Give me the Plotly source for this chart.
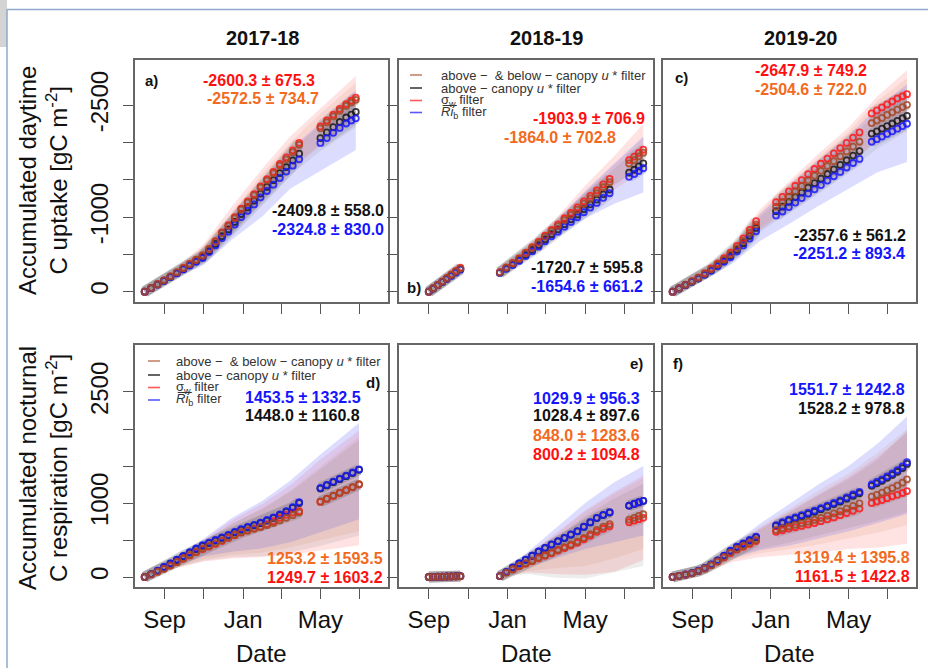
import plotly.graph_objects as go

W, H = 928, 668

# ---------------------------------------------------------------
# Sampling dates (one list per season / variable)
# ---------------------------------------------------------------
dates_a = ["2017-08-01", "2017-08-11", "2017-08-21", "2017-08-31", "2017-09-10", "2017-09-20",
           "2017-09-30", "2017-10-10", "2017-10-20", "2017-10-30", "2017-11-09", "2017-11-19",
           "2017-11-29", "2017-12-09", "2017-12-19", "2017-12-29", "2018-01-08", "2018-01-18",
           "2018-01-28", "2018-02-07", "2018-02-17", "2018-02-27", "2018-03-09", "2018-03-19",
           "2018-03-29", "2018-05-01", "2018-05-11", "2018-05-21", "2018-05-31", "2018-06-10",
           "2018-06-18", "2018-06-25"]
dates_d = ["2017-08-01", "2017-08-11", "2017-08-21", "2017-08-31", "2017-09-10", "2017-09-20",
           "2017-09-30", "2017-10-10", "2017-10-20", "2017-10-30", "2017-11-09", "2017-11-19",
           "2017-11-29", "2017-12-09", "2017-12-19", "2017-12-29", "2018-01-08", "2018-01-18",
           "2018-01-28", "2018-02-07", "2018-02-17", "2018-02-27", "2018-03-09", "2018-03-19",
           "2018-03-29", "2018-05-01", "2018-05-11", "2018-05-21", "2018-05-31", "2018-06-10",
           "2018-06-20", "2018-06-30"]
dates_b = ["2018-09-01", "2018-09-08", "2018-09-15", "2018-09-22", "2018-09-29", "2018-10-06",
           "2018-10-13", "2018-10-20", "2018-12-20", "2018-12-30", "2019-01-09", "2019-01-19",
           "2019-01-29", "2019-02-08", "2019-02-18", "2019-02-28", "2019-03-10", "2019-03-20",
           "2019-03-30", "2019-04-09", "2019-04-19", "2019-04-29", "2019-05-09", "2019-05-19",
           "2019-05-29", "2019-06-08", "2019-07-08", "2019-07-16", "2019-07-23", "2019-07-30"]
dates_c = ["2019-08-01", "2019-08-11", "2019-08-21", "2019-08-31", "2019-09-10", "2019-09-20",
           "2019-09-30", "2019-10-10", "2019-10-20", "2019-10-30", "2019-11-09", "2019-11-19",
           "2019-11-29", "2019-12-09", "2020-01-09", "2020-01-19", "2020-01-29", "2020-02-08",
           "2020-02-18", "2020-02-28", "2020-03-09", "2020-03-19", "2020-03-29", "2020-04-08",
           "2020-04-18", "2020-04-28", "2020-05-08", "2020-05-18", "2020-06-06", "2020-06-14",
           "2020-06-22", "2020-06-30", "2020-07-08", "2020-07-16", "2020-07-24", "2020-07-31"]

# ---------------------------------------------------------------
# Accumulated daytime C uptake [gC m-2]
# ---------------------------------------------------------------
brown_a = [0, -50, -100, -152, -205, -258, -316, -370, -425, -482, -570, -670, -785, -880, -985,
           -1100, -1195, -1290, -1395, -1490, -1585, -1690, -1775, -1870, -1970,
           -2190, -2270, -2350, -2425, -2490, -2535, -2572.5]
black_a = [0, -48, -97, -148, -200, -250, -305, -358, -410, -465, -545, -640, -745, -835, -935,
           -1040, -1130, -1220, -1315, -1405, -1495, -1590, -1670, -1760, -1850,
           -2060, -2135, -2205, -2275, -2335, -2375, -2409.8]
red_a = [0, -50, -100, -152, -205, -260, -318, -372, -428, -486, -575, -678, -795, -892, -998,
         -1115, -1210, -1308, -1412, -1510, -1605, -1712, -1800, -1895, -1995,
         -2215, -2295, -2375, -2450, -2515, -2560, -2600.3]
blue_a = [0, -47, -95, -145, -195, -245, -298, -350, -400, -452, -530, -620, -720, -805, -900,
          -1000, -1085, -1170, -1265, -1350, -1435, -1525, -1610, -1690, -1775,
          -1995, -2060, -2130, -2195, -2255, -2295, -2324.8]

brown_b = [0, -45, -90, -135, -180, -225, -270, -310,
           -259, -320, -378, -440, -515, -585, -655, -735, -810, -880, -960, -1030, -1100,
           -1180, -1250, -1320, -1400, -1470, -1720, -1765, -1815, -1864.0]
black_b = [0, -44, -88, -132, -176, -220, -263, -303,
           -255, -312, -368, -425, -495, -560, -625, -700, -770, -835, -905, -970, -1035,
           -1105, -1170, -1235, -1305, -1370, -1595, -1635, -1680, -1720.7]
red_b = [0, -46, -92, -138, -185, -232, -280, -322,
         -262, -325, -385, -450, -525, -597, -670, -752, -830, -902, -985, -1058, -1130,
         -1212, -1285, -1358, -1440, -1512, -1765, -1812, -1860, -1903.9]
blue_b = [0, -42, -85, -128, -170, -212, -255, -295,
          -252, -305, -358, -412, -478, -540, -603, -675, -742, -805, -872, -935, -998,
          -1065, -1128, -1190, -1258, -1320, -1540, -1578, -1618, -1654.6]

brown_c = [0, -45, -92, -138, -185, -240, -300, -365, -430, -500, -585, -680, -790, -900,
           -1140, -1205, -1275, -1345, -1415, -1490, -1555, -1620, -1685, -1750, -1815, -1880,
           -1945, -2010, -2260, -2295, -2330, -2370, -2405, -2440, -2475, -2504.6]
black_c = [0, -44, -90, -135, -180, -232, -290, -352, -415, -482, -562, -650, -750, -855,
           -1080, -1140, -1205, -1268, -1330, -1395, -1455, -1515, -1578, -1640, -1700, -1762,
           -1825, -1885, -2120, -2150, -2185, -2220, -2255, -2290, -2325, -2357.6]
red_c = [0, -46, -94, -142, -192, -250, -312, -380, -450, -525, -615, -715, -830, -945,
         -1200, -1270, -1345, -1420, -1495, -1575, -1645, -1715, -1785, -1855, -1925, -1995,
         -2065, -2135, -2390, -2430, -2470, -2510, -2550, -2590, -2620, -2647.9]
blue_c = [0, -43, -88, -132, -176, -226, -280, -340, -400, -462, -538, -620, -712, -810,
          -1020, -1075, -1135, -1195, -1255, -1315, -1372, -1430, -1490, -1548, -1605, -1665,
          -1725, -1780, -2010, -2045, -2080, -2115, -2150, -2185, -2220, -2251.2]

# ---------------------------------------------------------------
# Accumulated nocturnal C respiration [gC m-2]
# ---------------------------------------------------------------
brown_d = [0, 35, 72, 110, 155, 200, 250, 295, 340, 385, 420, 455, 495, 535, 570, 605, 630,
           655, 675, 700, 730, 765, 800, 835, 870, 1020, 1060, 1100, 1140, 1175, 1215, 1253.2]
black_d = [0, 39, 83, 132, 182, 230, 280, 330, 378, 422, 458, 493, 528, 563, 602, 640, 670,
           698, 728, 762, 798, 838, 882, 935, 1000, 1195, 1238, 1282, 1322, 1362, 1405, 1448.0]
red_d = [0, 35, 72, 110, 155, 200, 250, 292, 335, 378, 412, 448, 488, 528, 565, 600, 628,
         655, 680, 715, 755, 800, 840, 870, 890, 1015, 1055, 1095, 1135, 1172, 1212, 1249.7]
blue_d = [0, 40, 85, 135, 185, 235, 285, 335, 385, 430, 465, 500, 535, 570, 610, 648, 678,
          705, 735, 770, 805, 845, 890, 945, 1010, 1205, 1245, 1290, 1330, 1370, 1412, 1453.5]

brown_e = [0, 2, 3, 5, 6, 8, 9, 10,
           12, 60, 105, 150, 185, 220, 260, 295, 330, 370, 405, 440, 480, 530, 580, 635, 680,
           715, 775, 800, 825, 848.0]
black_e = [0, 2, 4, 5, 7, 8, 10, 11,
           12, 67, 128, 183, 232, 287, 342, 392, 437, 482, 527, 572, 617, 677, 737, 797, 837,
           872, 963, 988, 1008, 1028.4]
red_e = [0, 2, 3, 4, 6, 7, 8, 10,
         12, 58, 102, 146, 180, 214, 252, 286, 320, 358, 392, 425, 462, 510, 558, 610, 652,
         685, 740, 762, 782, 800.2]
blue_e = [0, 2, 4, 5, 7, 8, 10, 12,
          12, 68, 130, 185, 235, 290, 345, 395, 440, 485, 530, 575, 620, 680, 740, 800, 840,
          875, 965, 990, 1010, 1029.9]

brown_f = [0, 15, 32, 50, 80, 115, 160, 210, 270, 330, 380, 420, 460, 500,
           635, 660, 685, 705, 725, 748, 772, 800, 830, 860, 890, 925, 960, 995,
           1085, 1110, 1140, 1170, 1200, 1235, 1275, 1319.4]
black_f = [0, 16, 33, 52, 84, 120, 168, 222, 286, 350, 404, 448, 492, 535,
           690, 728, 762, 792, 822, 852, 882, 916, 950, 985, 1020, 1058, 1098, 1132,
           1232, 1266, 1300, 1340, 1380, 1422, 1472, 1528.2]
red_f = [0, 15, 32, 50, 80, 115, 160, 208, 265, 322, 370, 408, 445, 485,
         610, 632, 655, 672, 690, 710, 730, 755, 780, 805, 835, 865, 895, 925,
         1000, 1020, 1040, 1065, 1090, 1110, 1135, 1161.5]
blue_f = [0, 16, 34, 53, 85, 122, 170, 225, 290, 355, 410, 455, 500, 545,
          700, 740, 775, 805, 835, 865, 895, 930, 965, 1000, 1035, 1075, 1115, 1150,
          1250, 1285, 1320, 1360, 1400, 1445, 1495, 1551.7]

# ---------------------------------------------------------------
# Uncertainty envelopes (None separates disjoint periods)
# ---------------------------------------------------------------
band_dates_a = ["2017-08-01", "2017-09-15", "2017-11-01", "2017-12-15", "2018-01-31",
                "2018-03-15", "2018-04-30", "2018-06-25"]
red_hi_a = [0, -290, -640, -1150, -1650, -2080, -2450, -2890]
red_lo_a = [0, -190, -420, -800, -1230, -1620, -1950, -2300]
blue_hi_a = [0, -260, -560, -1020, -1480, -1900, -2260, -2700]
blue_lo_a = [0, -170, -360, -700, -1010, -1380, -1620, -1900]
black_hi_a = [0, -250, -540, -1000, -1460, -1880, -2230, -2620]
black_lo_a = [0, -200, -420, -800, -1200, -1560, -1880, -2200]
brown_hi_a = [0, -270, -600, -1080, -1580, -2000, -2380, -2800]
brown_lo_a = [0, -190, -420, -820, -1250, -1640, -1980, -2340]

band_dates_b = ["2018-09-01", "2018-10-20", None, "2018-12-20", "2019-02-01", "2019-03-15",
                "2019-05-01", "2019-06-15", "2019-07-30"]
red_hi_b = [0, -345, None, -270, -600, -960, -1420, -1820, -2250]
red_lo_b = [0, -290, None, -250, -480, -760, -1080, -1370, -1620]
blue_hi_b = [0, -330, None, -268, -580, -920, -1350, -1720, -2080]
blue_lo_b = [0, -280, None, -245, -460, -700, -980, -1180, -1330]
black_hi_b = [0, -320, None, -262, -560, -880, -1300, -1650, -1980]
black_lo_b = [0, -295, None, -252, -500, -790, -1150, -1440, -1680]
brown_hi_b = [0, -335, None, -265, -575, -910, -1340, -1700, -2060]
brown_lo_b = [0, -290, None, -252, -490, -780, -1120, -1420, -1700]

band_dates_c = ["2019-08-01", "2019-09-15", "2019-11-01", "2019-12-15", "2020-02-01",
                "2020-03-15", "2020-05-01", "2020-06-15", "2020-07-31"]
red_hi_c = [0, -240, -600, -1100, -1500, -1850, -2200, -2620, -2970]
red_lo_c = [0, -180, -440, -820, -1130, -1400, -1680, -2030, -2230]
blue_hi_c = [0, -230, -570, -1040, -1420, -1760, -2080, -2480, -2780]
blue_lo_c = [0, -150, -370, -680, -920, -1150, -1380, -1600, -1740]
black_hi_c = [0, -220, -550, -1000, -1370, -1700, -2020, -2420, -2700]
black_lo_c = [0, -180, -430, -800, -1080, -1350, -1620, -1920, -2150]
brown_hi_c = [0, -230, -580, -1060, -1450, -1800, -2140, -2560, -2860]
brown_lo_c = [0, -185, -450, -850, -1150, -1420, -1700, -2050, -2280]

band_dates_d = ["2017-08-01", "2017-09-15", "2017-11-01", "2017-12-15", "2018-01-31",
                "2018-03-15", "2018-04-30", "2018-06-30"]
red_hi_d = [0, 235, 500, 770, 990, 1240, 1580, 1980]
red_lo_d = [0, 110, 210, 250, 270, 300, 360, 430]
blue_hi_d = [0, 250, 520, 800, 1030, 1300, 1650, 2080]
blue_lo_d = [0, 140, 280, 340, 390, 470, 600, 780]
black_hi_d = [0, 240, 490, 720, 920, 1150, 1450, 1850]
black_lo_d = [0, 120, 220, 270, 280, 330, 420, 560]
brown_hi_d = [0, 230, 480, 720, 930, 1170, 1480, 1900]
brown_lo_d = [0, 120, 240, 300, 330, 400, 500, 620]

band_dates_e = band_dates_b
red_hi_e = [0, 30, None, 10, 300, 580, 900, 1150, 1370]
red_lo_e = [0, -20, None, 0, 60, 40, 30, 70, 230]
blue_hi_e = [0, 35, None, 12, 330, 640, 1000, 1280, 1500]
blue_lo_e = [0, -15, None, 5, 140, 250, 380, 470, 560]
black_hi_e = [0, 25, None, 10, 260, 520, 820, 1060, 1260]
black_lo_e = [0, -25, None, 0, 40, -10, -20, 60, 150]
brown_hi_e = [0, 30, None, 10, 280, 550, 880, 1120, 1330]
brown_lo_e = [0, -15, None, 2, 80, 120, 150, 250, 380]

band_dates_f = band_dates_c
red_hi_f = [0, 130, 400, 660, 900, 1120, 1350, 1620, 1950]
red_lo_f = [0, 30, 200, 270, 300, 330, 380, 400, 450]
blue_hi_f = [0, 140, 430, 720, 1000, 1250, 1500, 1800, 2170]
blue_lo_f = [0, 70, 250, 360, 430, 520, 620, 730, 850]
black_hi_f = [0, 120, 380, 640, 880, 1100, 1320, 1580, 1980]
black_lo_f = [0, 50, 260, 380, 470, 560, 660, 760, 880]
brown_hi_f = [0, 130, 400, 680, 930, 1170, 1400, 1680, 2000]
brown_lo_f = [0, 40, 230, 320, 380, 440, 520, 600, 700]

# Season-total labels: (text, colour key, x px, y px, anchor)
labels_a = [("-2600.3 ± 675.3", "red", 317, 80, "right"), ("-2572.5 ± 734.7", "orange", 321, 98, "right"),
            ("-2409.8 ± 558.0", "black", 386, 210, "right"), ("-2324.8 ± 830.0", "blue", 386, 229, "right")]
labels_b = [("-1903.9 ± 706.9", "red", 647, 118, "right"), ("-1864.0 ± 702.8", "orange", 618, 137, "right"),
            ("-1720.7 ± 595.8", "black", 645, 268, "right"), ("-1654.6 ± 661.2", "blue", 645, 286, "right")]
labels_c = [("-2647.9 ± 749.2", "red", 869, 71, "right"), ("-2504.6 ± 722.0", "orange", 869, 89, "right"),
            ("-2357.6 ± 561.2", "black", 908, 235, "right"), ("-2251.2 ± 893.4", "blue", 907, 254, "right")]
labels_d = [("1453.5 ± 1332.5", "blue", 363, 397, "right"), ("1448.0 ± 1160.8", "black", 362, 415, "right"),
            ("1253.2 ± 1593.5", "orange", 385, 558, "right"), ("1249.7 ± 1603.2", "red", 385, 577, "right")]
labels_e = [("1029.9 ± 956.3", "blue", 642, 398, "right"), ("1028.4 ± 897.6", "black", 642, 415, "right"),
            ("848.0 ± 1283.6", "orange", 642, 435, "right"), ("800.2 ± 1094.8", "red", 642, 454, "right")]
labels_f = [("1551.7 ± 1242.8", "blue", 907, 389, "right"), ("1528.2 ± 978.8", "black", 907, 408, "right"),
            ("1319.4 ± 1395.8", "orange", 912, 557, "right"), ("1161.5 ± 1422.8", "red", 912, 576, "right")]

season_titles = ["2017-18", "2018-19", "2019-20"]
month_ticks = ["09-01", "11-01", "01-01", "03-01", "05-01", "07-01"]
month_text = ["Sep", "", "Jan", "", "May", ""]
uptake_ticks = [0, -500, -1000, -1500, -2000, -2500]
uptake_text = ["0", "", "-1000", "", "", "-2500"]
resp_ticks = [0, 500, 1000, 1500, 2000, 2500]
resp_text = ["0", "", "1000", "", "", "2500"]

legend_entries = ["above −  & below − canopy <i>u</i> * filter",
                  "above − canopy <i>u</i> * filter",
                  "σ<sub>w</sub> filter",
                  "<i>R̅i̅</i><sub>b</sub> filter"]

# ---------------------------------------------------------------
# Styling
# ---------------------------------------------------------------
FONT = "Liberation Sans, Arial, sans-serif"
mark_col = {"brown": "rgba(165,72,35,0.85)", "black": "rgba(25,25,25,0.85)",
            "red": "rgba(255,25,25,0.85)", "blue": "rgba(25,25,255,0.85)"}
band_col = {"red": "rgba(255,110,110,0.2)", "blue": "rgba(110,110,255,0.24)",
            "black": "rgba(110,110,110,0.12)", "brown": "rgba(205,120,80,0.12)"}
text_col = {"red": "#ff1010", "orange": "#f26a1e", "black": "#111111", "blue": "#1414ff"}
legend_col = ["rgba(190,120,90,0.9)", "rgba(40,40,40,0.9)", "rgba(255,70,70,0.9)", "rgba(70,70,255,0.9)"]
draw_order = ["black", "red", "blue", "brown"]

cols_px = [(135, 388), (399, 653), (663, 916)]
rows_px = [(60, 302), (345, 587)]


def px(x):
    return x / W


def py(y):
    return 1 - y / H


panels = [
    dict(dates=dates_a, s=dict(brown=brown_a, black=black_a, red=red_a, blue=blue_a),
         bd=band_dates_a, band=dict(red=(red_hi_a, red_lo_a), blue=(blue_hi_a, blue_lo_a),
                                    black=(black_hi_a, black_lo_a), brown=(brown_hi_a, brown_lo_a)),
         year=2017, row=0, col=0, labels=labels_a, tag="a)", tagpos=(151, 80)),
    dict(dates=dates_b, s=dict(brown=brown_b, black=black_b, red=red_b, blue=blue_b),
         bd=band_dates_b, band=dict(red=(red_hi_b, red_lo_b), blue=(blue_hi_b, blue_lo_b),
                                    black=(black_hi_b, black_lo_b), brown=(brown_hi_b, brown_lo_b)),
         year=2018, row=0, col=1, labels=labels_b, tag="b)", tagpos=(414, 287)),
    dict(dates=dates_c, s=dict(brown=brown_c, black=black_c, red=red_c, blue=blue_c),
         bd=band_dates_c, band=dict(red=(red_hi_c, red_lo_c), blue=(blue_hi_c, blue_lo_c),
                                    black=(black_hi_c, black_lo_c), brown=(brown_hi_c, brown_lo_c)),
         year=2019, row=0, col=2, labels=labels_c, tag="c)", tagpos=(681, 78)),
    dict(dates=dates_d, s=dict(brown=brown_d, black=black_d, red=red_d, blue=blue_d),
         bd=band_dates_d, band=dict(red=(red_hi_d, red_lo_d), blue=(blue_hi_d, blue_lo_d),
                                    black=(black_hi_d, black_lo_d), brown=(brown_hi_d, brown_lo_d)),
         year=2017, row=1, col=0, labels=labels_d, tag="d)", tagpos=(373, 382)),
    dict(dates=dates_b, s=dict(brown=brown_e, black=black_e, red=red_e, blue=blue_e),
         bd=band_dates_e, band=dict(red=(red_hi_e, red_lo_e), blue=(blue_hi_e, blue_lo_e),
                                    black=(black_hi_e, black_lo_e), brown=(brown_hi_e, brown_lo_e)),
         year=2018, row=1, col=1, labels=labels_e, tag="e)", tagpos=(636, 363)),
    dict(dates=dates_c, s=dict(brown=brown_f, black=black_f, red=red_f, blue=blue_f),
         bd=band_dates_f, band=dict(red=(red_hi_f, red_lo_f), blue=(blue_hi_f, blue_lo_f),
                                    black=(black_hi_f, black_lo_f), brown=(brown_hi_f, brown_lo_f)),
         year=2019, row=1, col=2, labels=labels_f, tag="f)", tagpos=(678, 363)),
]


def band_polygon(dates, hi, lo):
    """Closed outline for each contiguous period of an envelope."""
    xs, ys = [], []
    seg_d, seg_h, seg_l = [], [], []
    for d, h, l in list(zip(dates, hi, lo)) + [(None, None, None)]:
        if d is None:
            if seg_d:
                xs += seg_d + seg_d[::-1] + [None]
                ys += seg_h + seg_l[::-1] + [None]
            seg_d, seg_h, seg_l = [], [], []
        else:
            seg_d.append(d)
            seg_h.append(h)
            seg_l.append(l)
    return xs, ys


def broken_at_gaps(dates, vals, max_gap_days=15):
    import datetime as dt
    xs, ys = [], []
    prev = None
    for d, v in zip(dates, vals):
        cur = dt.date.fromisoformat(d)
        if prev is not None and (cur - prev).days > max_gap_days:
            xs.append(None)
            ys.append(None)
        xs.append(d)
        ys.append(v)
        prev = cur
    return xs, ys


fig = go.Figure()
layout = dict(width=W, height=H, margin=dict(l=0, r=0, t=0, b=0),
              paper_bgcolor="white", plot_bgcolor="white", showlegend=False,
              font=dict(family=FONT, color="#111"))
annotations = []
shapes = []

for i, p in enumerate(panels):
    n = "" if i == 0 else str(i + 1)
    xref, yref = "x" + n, "y" + n
    x0, x1 = cols_px[p["col"]]
    y0, y1 = rows_px[p["row"]]
    yr = p["year"]
    top = p["row"] == 0

    # envelopes
    for key in ["red", "blue", "black", "brown"]:
        hi, lo = p["band"][key]
        bx, by = band_polygon(p["bd"], hi, lo)
        fig.add_trace(go.Scatter(x=bx, y=by, fill="toself", fillcolor=band_col[key],
                                 line=dict(width=0), mode="lines", hoverinfo="skip",
                                 xaxis=xref, yaxis=yref))
    # soft grey trace under each series
    for key in draw_order:
        lx, ly = broken_at_gaps(p["dates"], p["s"][key])
        fig.add_trace(go.Scatter(x=lx, y=ly, mode="lines",
                                 line=dict(color="rgba(120,115,120,0.22)", width=11),
                                 hoverinfo="skip", xaxis=xref, yaxis=yref))
    # accumulated series
    for key in draw_order:
        fig.add_trace(go.Scatter(x=p["dates"], y=p["s"][key], mode="markers",
                                 marker=dict(symbol="circle-open", size=6, color=mark_col[key],
                                             line=dict(color=mark_col[key], width=1.8)),
                                 xaxis=xref, yaxis=yref))

    tickvals = [("%d-" % yr if t.startswith(("09", "11")) else "%d-" % (yr + 1)) + t
                for t in month_ticks]
    layout["xaxis" + n] = dict(
        domain=[px(x0), px(x1)], anchor=yref, type="date",
        range=["%d-07-17" % yr, "%d-08-14" % (yr + 1)],
        tickmode="array", tickvals=tickvals,
        ticktext=[""] * 6 if top else month_text,
        ticks="outside", ticklen=10, tickwidth=1.4, tickcolor="#555",
        tickfont=dict(size=24, color="#111", family=FONT),
        showline=True, linecolor="#666", linewidth=1.5, mirror=True,
        showgrid=False, zeroline=False)
    layout["yaxis" + n] = dict(
        domain=[py(y1), py(y0)], anchor=xref,
        range=[138, -3106] if top else [-135, 3135],
        tickmode="array", tickvals=uptake_ticks if top else resp_ticks,
        ticktext=uptake_text if top else resp_text,
        showticklabels=(p["col"] == 0), tickangle=-90,
        ticks="outside", ticklen=10, tickwidth=1.4, tickcolor="#555",
        tickfont=dict(size=24, color="#111", family=FONT), ticklabelstandoff=6,
        showline=True, linecolor="#666", linewidth=1.5, mirror=True,
        showgrid=False, zeroline=False)

    for text, ck, lx_, ly_, anc in p["labels"]:
        annotations.append(dict(text="<b>%s</b>" % text, x=px(lx_), y=py(ly_), xref="paper",
                                yref="paper", xanchor=anc, yanchor="middle", showarrow=False,
                                font=dict(size=16, color=text_col[ck], family=FONT)))
    annotations.append(dict(text="<b>%s</b>" % p["tag"], x=px(p["tagpos"][0]), y=py(p["tagpos"][1]),
                            xref="paper", yref="paper", xanchor="center", yanchor="middle",
                            showarrow=False, font=dict(size=15, color="#111", family=FONT)))

# season headers
for title, xc in zip(season_titles, [262, 546, 800]):
    annotations.append(dict(text="<b>%s</b>" % title, x=px(xc), y=py(38), xref="paper", yref="paper",
                            xanchor="center", yanchor="middle", showarrow=False,
                            font=dict(size=20, color="#111", family=FONT)))

# axis titles
annotations.append(dict(text="Accumulated daytime<br>C uptake [gC m<sup>-2</sup>]",
                        x=px(43), y=py(181), xref="paper", yref="paper", textangle=-90,
                        xanchor="center", yanchor="middle", showarrow=False,
                        font=dict(size=24, color="#111", family=FONT)))
annotations.append(dict(text="Accumulated nocturnal<br>C respiration [gC m<sup>-2</sup>]",
                        x=px(43), y=py(468), xref="paper", yref="paper", textangle=-90,
                        xanchor="center", yanchor="middle", showarrow=False,
                        font=dict(size=24, color="#111", family=FONT)))
for x0, x1 in cols_px:
    annotations.append(dict(text="Date", x=px((x0 + x1) / 2), y=py(653), xref="paper", yref="paper",
                            xanchor="center", yanchor="middle", showarrow=False,
                            font=dict(size=24, color="#111", family=FONT)))

# filter legends (panels b and d)
for sx, tx, rows_y in [(410, 439, [75, 88, 100.5, 112.5]), (148, 174, [361, 375, 387.5, 400])]:
    for entry, col, yy in zip(legend_entries, legend_col, rows_y):
        shapes.append(dict(type="line", xref="paper", yref="paper", x0=px(sx), x1=px(sx + 12),
                           y0=py(yy), y1=py(yy), line=dict(color=col, width=1.6)))
        annotations.append(dict(text=entry, x=px(tx), y=py(yy), xref="paper", yref="paper",
                                xanchor="left", yanchor="middle", showarrow=False,
                                font=dict(size=13, color="#333", family=FONT)))

# page frame
shapes.append(dict(type="rect", xref="paper", yref="paper", x0=0, x1=px(7), y0=py(47), y1=1,
                   line=dict(width=0), fillcolor="#d4d4d4"))
shapes.append(dict(type="line", xref="paper", yref="paper", x0=px(7), x1=1, y0=py(9.5), y1=py(9.5),
                   line=dict(color="#8ea9cc", width=1.5)))
shapes.append(dict(type="line", xref="paper", yref="paper", x0=px(7), x1=px(7), y0=py(9.5), y1=0,
                   line=dict(color="#8ea9cc", width=1.5)))

layout["annotations"] = annotations
layout["shapes"] = shapes
fig.update_layout(**layout)
fig.write_html("out.html")
